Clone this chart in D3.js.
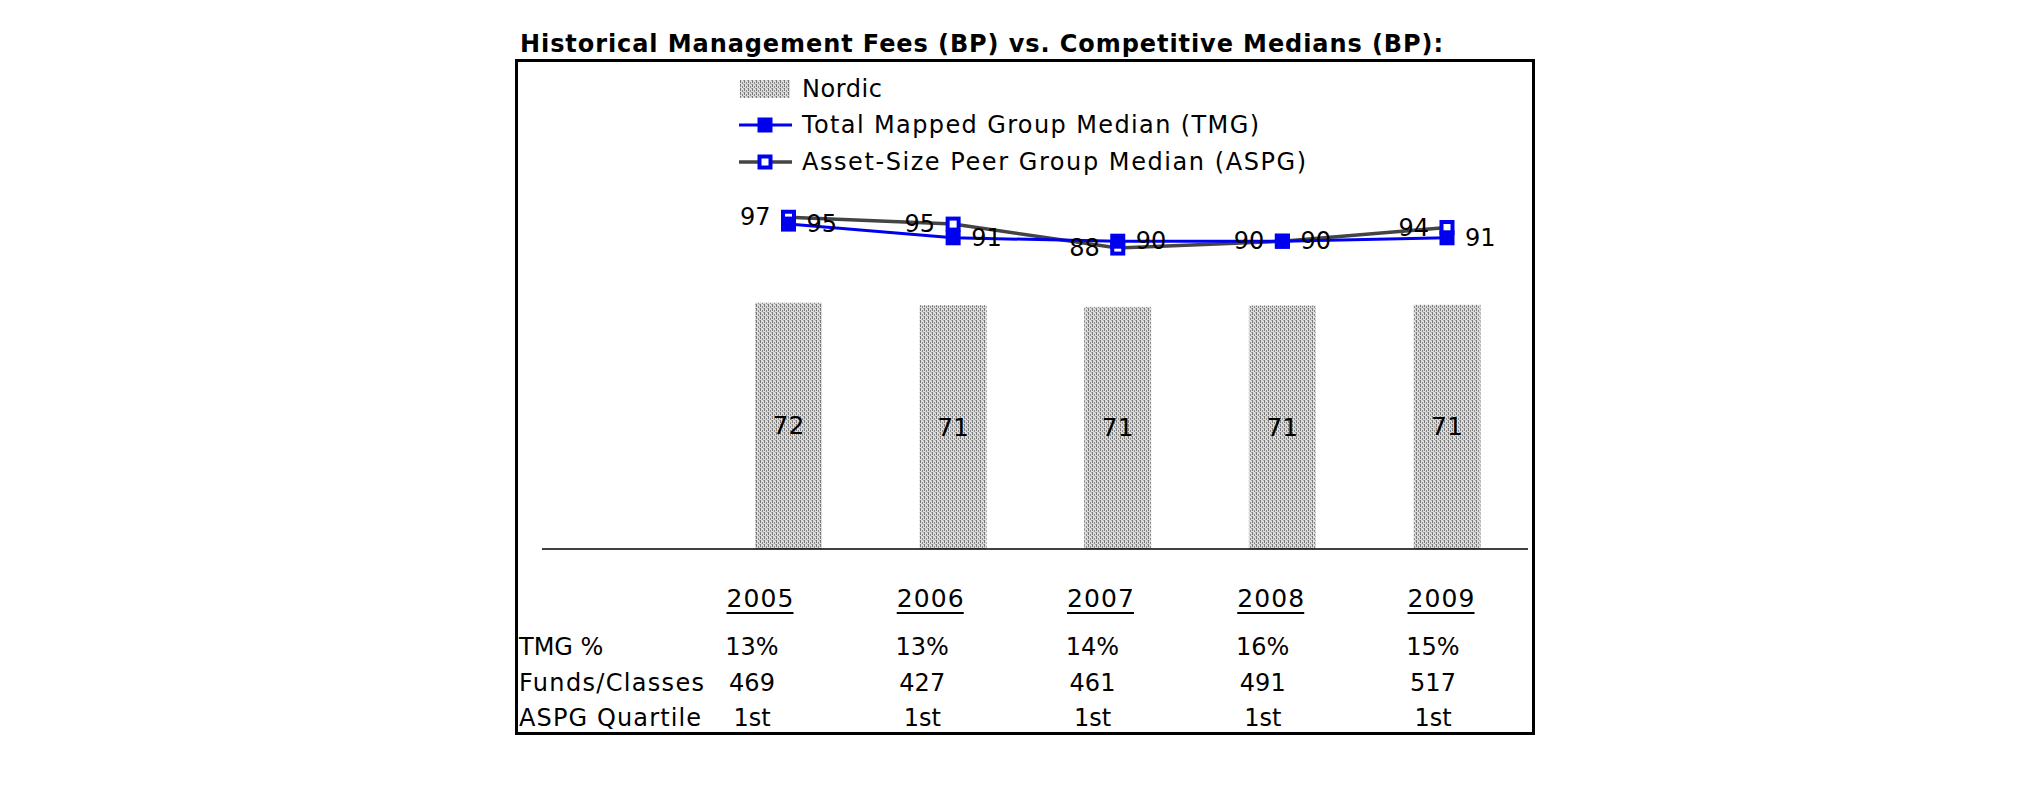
<!DOCTYPE html>
<html>
<head>
<meta charset="utf-8">
<script src="https://cdn.jsdelivr.net/npm/d3@7"></script>
<style>
  html, body { margin: 0; padding: 0; background: #fff; }
  svg { display: block; }
  text { font-family: "DejaVu Sans", Verdana, sans-serif; fill: #000; }
</style>
</head>
<body>
<svg id="chart" width="2025" height="806"></svg>
<script>
// ---- data ----
const years = ["2005", "2006", "2007", "2008", "2009"];
const nordic = [72.0, 71.3, 70.8, 71.2, 71.4];
const tmg = [95, 91, 90, 90, 91];
const aspg = [97, 95, 88, 90, 94];
const tmgPct = ["13%", "13%", "14%", "16%", "15%"];
const fundsClasses = ["469", "427", "461", "491", "517"];
const aspgQuartile = ["1st", "1st", "1st", "1st", "1st"];
const rowLabels = ["TMG %", "Funds/Classes", "ASPG Quartile"];
const legendLabels = ["Nordic", "Total Mapped Group Median (TMG)", "Asset-Size Peer Group Median (ASPG)"];
const title = "Historical Management Fees (BP) vs. Competitive Medians (BP):";

// widths of the texts in the reference (layout only)
const rowLabelW = [null, 185, 182];
const legendW = [80, 457, 504];

const svg = d3.select("#chart");
const BLUE = "#0000f0", GREY = "#444444";

// pattern for bars
const defs = svg.append("defs");
const pat = defs.append("pattern").attr("id", "dots").attr("patternUnits", "userSpaceOnUse")
  .attr("width", 4).attr("height", 4);
pat.append("rect").attr("width", 4).attr("height", 4).attr("fill", "#dcdcdc");
pat.append("rect").attr("x", 0).attr("y", 0).attr("width", 1).attr("height", 3).attr("fill", "#7a7a7a");
pat.append("rect").attr("x", 2).attr("y", 2).attr("width", 1).attr("height", 2).attr("fill", "#8a8a8a");
pat.append("rect").attr("x", 3).attr("y", 0).attr("width", 1).attr("height", 1).attr("fill", "#b0b0b0");

// title
svg.append("text").attr("x", 520).attr("y", 52)
  .attr("font-weight", "bold").attr("font-size", 24)
  .attr("textLength", 923).attr("lengthAdjust", "spacing").text(title);

// frame
svg.append("rect").attr("x", 516.5).attr("y", 60.5).attr("width", 1017).attr("height", 673)
  .attr("fill", "none").attr("stroke", "#000").attr("stroke-width", 3);

// scales
const x = d3.scalePoint().domain(years).range([788.5, 1447]);
const y = d3.scaleLinear().domain([0, 100]).range([549, 207]);
const barW = 67;

// bars
svg.append("g").selectAll("rect").data(years).join("rect")
  .attr("x", d => x(d) - barW / 2)
  .attr("y", (d, i) => y(nordic[i]))
  .attr("width", barW)
  .attr("height", (d, i) => y(0) - y(nordic[i]))
  .attr("fill", "url(#dots)");

svg.append("g").selectAll("text").data(years).join("text")
  .attr("x", d => x(d))
  .attr("y", (d, i) => (y(nordic[i]) + y(0)) / 2)
  .attr("text-anchor", "middle").attr("dominant-baseline", "central")
  .attr("font-size", 25)
  .text((d, i) => d3.format(".0f")(nordic[i]));

// category axis line
svg.append("line").attr("x1", 542).attr("x2", 1528).attr("y1", y(0)).attr("y2", y(0))
  .attr("stroke", "#000").attr("stroke-width", 1.5);

const line = d3.line().x(d => x(d[0])).y(d => y(d[1]));
const MS = 15;

// ASPG series
svg.append("path").datum(years.map((d, i) => [d, aspg[i]]))
  .attr("d", line).attr("fill", "none").attr("stroke", GREY).attr("stroke-width", 3.5);
svg.append("g").selectAll("rect").data(years).join("rect")
  .attr("x", d => x(d) - MS / 2 + 2)
  .attr("y", (d, i) => y(aspg[i]) - MS / 2 + 2)
  .attr("width", MS - 4).attr("height", MS - 4)
  .attr("fill", "#fff").attr("stroke", BLUE).attr("stroke-width", 4);

// TMG series
svg.append("path").datum(years.map((d, i) => [d, tmg[i]]))
  .attr("d", line).attr("fill", "none").attr("stroke", BLUE).attr("stroke-width", 3);
svg.append("g").selectAll("rect").data(years).join("rect")
  .attr("x", d => x(d) - MS / 2)
  .attr("y", (d, i) => y(tmg[i]) - MS / 2)
  .attr("width", MS).attr("height", MS)
  .attr("fill", BLUE);

// point labels
svg.append("g").selectAll("text").data(years).join("text")
  .attr("x", d => x(d) - 18)
  .attr("y", (d, i) => y(aspg[i]))
  .attr("text-anchor", "end").attr("dominant-baseline", "central")
  .attr("font-size", 24)
  .text((d, i) => aspg[i]);
svg.append("g").selectAll("text").data(years).join("text")
  .attr("x", d => x(d) + 18)
  .attr("y", (d, i) => y(tmg[i]))
  .attr("text-anchor", "start").attr("dominant-baseline", "central")
  .attr("font-size", 24)
  .text((d, i) => tmg[i]);

// legend
const lg = svg.append("g");
const ly = [89, 125, 162];
lg.append("rect").attr("x", 740).attr("y", ly[0] - 9).attr("width", 50).attr("height", 18).attr("fill", "url(#dots)");
lg.append("line").attr("x1", 739).attr("x2", 792).attr("y1", ly[1]).attr("y2", ly[1]).attr("stroke", BLUE).attr("stroke-width", 3);
lg.append("rect").attr("x", 765 - MS / 2).attr("y", ly[1] - MS / 2).attr("width", MS).attr("height", MS).attr("fill", BLUE);
lg.append("line").attr("x1", 739).attr("x2", 792).attr("y1", ly[2]).attr("y2", ly[2]).attr("stroke", GREY).attr("stroke-width", 3.5);
lg.append("rect").attr("x", 765 - MS / 2 + 2).attr("y", ly[2] - MS / 2 + 2).attr("width", MS - 4).attr("height", MS - 4)
  .attr("fill", "#fff").attr("stroke", BLUE).attr("stroke-width", 4);
lg.selectAll("text").data(legendLabels).join("text")
  .attr("x", 802).attr("y", (d, i) => ly[i])
  .attr("dominant-baseline", "central").attr("font-size", 24)
  .attr("textLength", (d, i) => legendW[i]).attr("lengthAdjust", "spacing")
  .text(d => d);

// table
const xt = d3.scalePoint().domain(years).range([760, 1441]);
const yearText = svg.append("g").selectAll("text").data(years).join("text")
  .attr("x", d => xt(d)).attr("y", 598)
  .attr("text-anchor", "middle").attr("dominant-baseline", "central")
  .attr("font-size", 25)
  .attr("textLength", 67).attr("lengthAdjust", "spacing")
  .text(d => d);
yearText.each(function () {
  const b = this.getBBox();
  svg.append("line").attr("x1", b.x).attr("x2", b.x + b.width).attr("y1", 613).attr("y2", 613)
    .attr("stroke", "#000").attr("stroke-width", 2);
});

const rows = [tmgPct, fundsClasses, aspgQuartile];
const rowY = [647, 683, 718];
rows.forEach((vals, r) => {
  const t = svg.append("text").attr("x", 519).attr("y", rowY[r]).attr("dominant-baseline", "central")
    .attr("font-size", 24)
    .text(rowLabels[r]);
  if (rowLabelW[r]) t.attr("textLength", rowLabelW[r]).attr("lengthAdjust", "spacing");
  svg.append("g").selectAll("text").data(years).join("text")
    .attr("x", d => xt(d) - 8).attr("y", rowY[r])
    .attr("text-anchor", "middle").attr("dominant-baseline", "central")
    .attr("font-size", 24).text((d, i) => vals[i]);
});
</script>
</body>
</html>
